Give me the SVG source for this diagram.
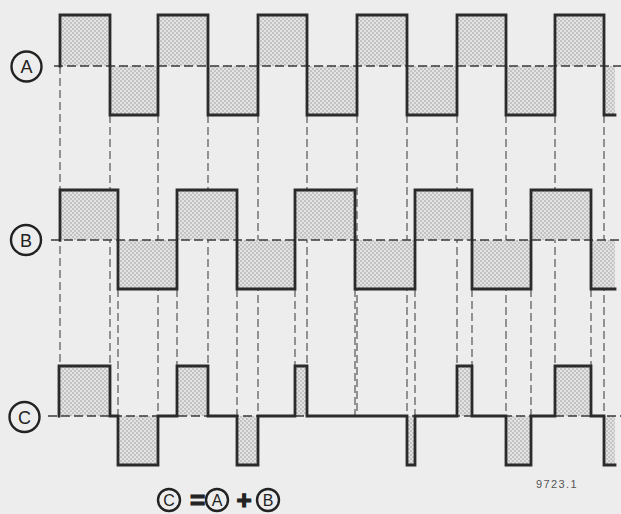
<svg xmlns="http://www.w3.org/2000/svg" width="621" height="514" viewBox="0 0 621 514">
<defs>
<pattern id="dots" width="4" height="4" patternUnits="userSpaceOnUse">
<rect width="4" height="4" fill="#e3e3e3"/>
<circle cx="1" cy="1" r="0.7" fill="#8a8a8a"/>
<circle cx="3" cy="3" r="0.7" fill="#8a8a8a"/>
</pattern>
</defs>
<style>
.bg{fill:#ededed}
.shade{fill:url(#dots);stroke:none}
.wave{fill:none;stroke:#2b2b2b;stroke-width:2.8;stroke-linejoin:miter;stroke-linecap:square}
.base{fill:none;stroke:#3a3a3a;stroke-width:1.6;stroke-dasharray:9 4}
.guide{fill:none;stroke:#555;stroke-width:1.2;stroke-dasharray:8 4}
.ring{fill:none;stroke:#222;stroke-width:2.4}
.lbl{font-family:"Liberation Sans",Arial,sans-serif;font-size:18px;fill:#222;text-anchor:middle}
.small{font-family:"Liberation Sans",Arial,sans-serif;font-size:16px;fill:#222;text-anchor:middle}
.op{font-family:"Liberation Sans",Arial,sans-serif;font-size:26px;font-weight:bold;fill:#222;stroke:#222;stroke-width:1.2;text-anchor:middle}
.ref{font-family:"Liberation Sans",Arial,sans-serif;font-size:11px;fill:#555;letter-spacing:1.4px}
</style>
<rect class="bg" x="0" y="0" width="621" height="514"/>

<g id="connectors">
<path class="guide" d="M60,66 V366 M110,115 V366 M158,115 V416 M208,115 V366 M258,115 V416 M307,115 V366 M357,115 V416 M407,115 V416 M457,115 V366 M506,115 V416 M555,115 V366 M604,115 V416"/>
<path class="guide" d="M118,289 V416 M177,289 V366 M237,289 V416 M295,289 V366 M355,289 V416 M415,289 V416 M472,289 V366 M531,289 V416 M591,289 V366"/>
</g>

<g id="wave-A">
<path class="shade" d="M60,66 V15 H110 V115 H158 V15 H208 V115 H258 V15 H307 V115 H357 V15 H407 V115 H457 V15 H506 V115 H555 V15 H604 V115 H615 V66 Z"/>
<path class="base" d="M54,66 H621"/>
<path class="wave" d="M60,66 V15 H110 V115 H158 V15 H208 V115 H258 V15 H307 V115 H357 V15 H407 V115 H457 V15 H506 V115 H555 V15 H604 V115 H615"/>
</g>

<g id="wave-B">
<path class="shade" d="M60,240 V190 H118 V289 H177 V190 H237 V289 H295 V190 H355 V289 H415 V190 H472 V289 H531 V190 H591 V289 H615 V240 Z"/>
<path class="base" d="M51,240 H621"/>
<path class="wave" d="M60,240 V190 H118 V289 H177 V190 H237 V289 H295 V190 H355 V289 H415 V190 H472 V289 H531 V190 H591 V289 H615"/>
</g>

<g id="wave-C">
<path class="shade" d="M59,416 V366 H110 V416 Z M118,416 V465 H158 V416 Z M177,416 V366 H208 V416 Z M237,416 V465 H258 V416 Z M295,416 V366 H307 V416 Z M407,416 V465 H415 V416 Z M457,416 V366 H472 V416 Z M506,416 V465 H531 V416 Z M555,416 V366 H591 V416 Z M604,416 V465 H615 V416 Z"/>
<path class="base" d="M48,416 H621"/>
<path class="wave" d="M59,416 V366 H110 V416 H118 V465 H158 V416 H177 V366 H208 V416 H237 V465 H258 V416 H295 V366 H307 V416 H407 V465 H415 V416 H457 V366 H472 V416 H506 V465 H531 V416 H555 V366 H591 V416 H604 V465 H615"/>
</g>

<g id="label-A">
<circle class="ring" cx="26.5" cy="66.5" r="15"/>
<text class="lbl" x="26.5" y="73">A</text>
</g>
<g id="label-B">
<circle class="ring" cx="26" cy="240" r="15"/>
<text class="lbl" x="26" y="246.5">B</text>
</g>
<g id="label-C">
<circle class="ring" cx="24.5" cy="417" r="15"/>
<text class="lbl" x="24.5" y="423.5">C</text>
</g>

<g id="formula">
<circle class="ring" cx="169" cy="500" r="11"/>
<text class="small" x="169" y="506">C</text>
<text class="op" x="197.5" y="509">=</text>
<circle class="ring" cx="217" cy="500" r="11"/>
<text class="small" x="217" y="506">A</text>
<text class="op" x="244" y="509">+</text>
<circle class="ring" cx="268" cy="500" r="11"/>
<text class="small" x="268" y="506">B</text>
</g>

<g id="ref">
<text class="ref" x="536" y="488">9723.1</text>
</g>
</svg>
